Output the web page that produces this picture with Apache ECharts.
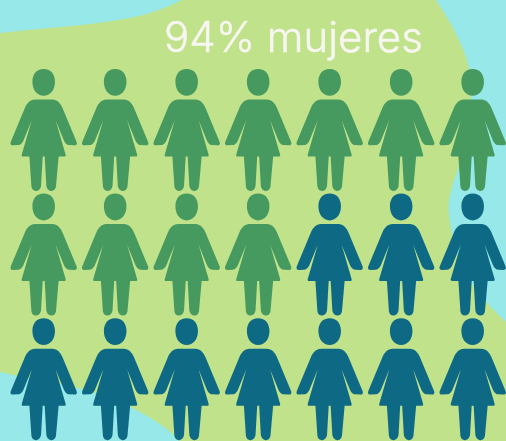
<!DOCTYPE html>
<html>
<head>
<meta charset="utf-8">
<style>
  html, body { margin: 0; padding: 0; background: #97e8e8; }
  #main { width: 506px; height: 441px; }
</style>
<script src="https://cdn.jsdelivr.net/npm/echarts@6/dist/echarts.min.js"></script>
</head>
<body>
<div id="main"></div>
<script>
var titleText = '94% mujeres';
// column and row numbers of the figures
var columns = [1, 2, 3, 4, 5, 6, 7];
var rows = [1, 2, 3];
// how many figures of each colour in every row, left to right
var greenPerRow = [7, 4, 0];
var bluePerRow = [0, 3, 7];

var woman = 'path://M131 27C153 27 165 43 165 65C165 90 150 107 131 107C112 107 97 90 97 65C97 43 109 27 131 27Z' +
  'M105 118L157 118C172 118 182 130 188 144L230 244C233 250 230 255 224 255L208 254C200 254 194 246 191 238L167 180' +
  'L197 282C198 286 197 288 193 288L176 288L168 378C167 387 160 392 153 391C146 390 140 384 139 376L134 288L128 288' +
  'L123 376C122 384 116 390 109 391C102 392 95 387 94 378L88 288L69 288C65 288 64 286 65 282L95 180L71 238C68 246 62 254 54 254' +
  'L38 255C32 255 29 250 32 244L74 144C80 130 90 118 105 118Z';

var blobPath = 'M0 33C50 27 110 25 150 13C162 9 172 5 182 0L436 0C452 24 465 48 470 72C474 100 468 135 459 167' +
  'C452 185 447 200 449 215C452 245 462 272 476 290C487 303 497 314 506 322L506 441L180 441' +
  'C165 425 140 410 110 398C75 385 35 380 0 372Z';

function cells(counts, offsets) {
  var out = [];
  counts.forEach(function (n, r) {
    for (var i = 0; i < n; i++) {
      out.push([columns[offsets[r] + i], rows[r]]);
    }
  });
  return out;
}

var myChart = echarts.init(document.getElementById('main'));
var option = {
  backgroundColor: '#97e8e8',
  animation: false,
  title: {
    text: titleText,
    left: 159,
    top: 13,
    textStyle: {
      color: '#f8f6f1',
      fontFamily: 'Inter',
      fontWeight: 300,
      fontSize: 42,
      textBorderColor: '#f8f6f1',
      textBorderWidth: 0.5
    }
  },
  grid: { left: 0, top: 0, right: 0, bottom: 0 },
  xAxis: { type: 'value', min: 0.389, max: 7.466, show: false },
  yAxis: { type: 'value', min: -0.043, max: 3.496, inverse: true, show: false },
  series: [
    {
      // fondo verde
      type: 'custom',
      silent: true,
      z: 0,
      clip: false,
      data: [[1, 1]],
      renderItem: function () {
        return {
          type: 'path',
          shape: { pathData: blobPath, x: 0, y: 0, width: 506, height: 441 },
          style: { fill: '#bfe28a' }
        };
      }
    },
    {
      type: 'scatter',
      name: 'verde',
      z: 2,
      symbol: woman,
      symbolSize: [66.5, 122],
      itemStyle: { color: '#46995f', opacity: 1 },
      data: cells(greenPerRow, [0, 0, 0])
    },
    {
      type: 'scatter',
      name: 'azul',
      z: 2,
      symbol: woman,
      symbolSize: [66.5, 122],
      itemStyle: { color: '#0e6a84', opacity: 1 },
      data: cells(bluePerRow, [0, 4, 0])
    }
  ]
};
myChart.setOption(option);
</script>
</body>
</html>
